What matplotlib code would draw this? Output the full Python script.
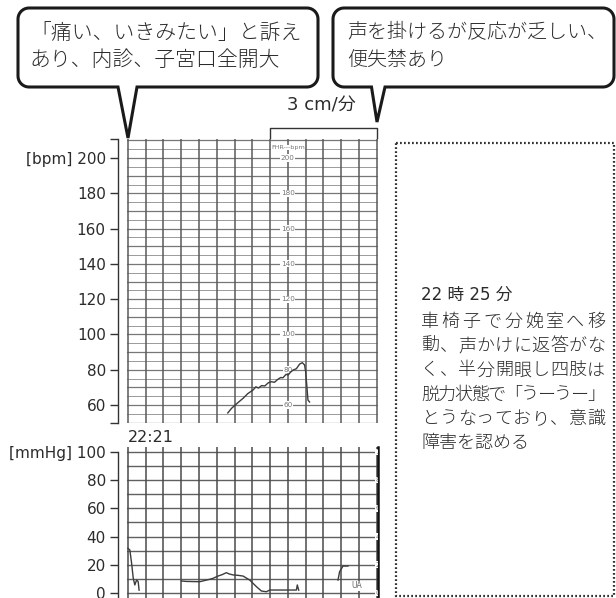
import numpy as np
import matplotlib
matplotlib.use("Agg")
import matplotlib.pyplot as plt
from matplotlib.patches import Polygon, Rectangle
from matplotlib.ticker import FixedLocator
from matplotlib.transforms import blended_transform_factory

# ---------------- data ----------------
fhr_t = [56.2, 58.3, 61.5, 64.8, 67.5, 70.4, 72.0, 73.5, 75.2, 77.0, 79.0, 80.7,
         82.5, 84.4, 86.0, 87.2, 89.0, 90.1, 91.5, 92.9, 94.8, 96.6, 98.1, 99.4,
         100.0, 100.7, 101.3, 102.2]
fhr_v = [55.5, 58.1, 61.0, 63.8, 66.5, 68.5, 70.3, 69.6, 71.0, 70.8, 72.6, 73.2,
         72.9, 74.6, 75.6, 75.4, 77.4, 77.0, 78.6, 79.8, 80.6, 83.2, 84.0, 82.7,
         78.9, 70.4, 62.8, 61.7]

nan = np.nan
ua_t = [0.0, 1.1, 2.1, 3.0, 3.9, 4.9, 5.8, 6.3, nan,
        30.2, 33.0, 40.4, 46.0, 47.9, 50.7, 53.0, 55.4, 57.0, 59.2, 62.0, 64.8,
        68.5, 72.3, 75.1, 77.9, 79.8, 94.8, 95.3, 96.1, nan,
        118.2, 119.1, 121.0, 123.8]
ua_v = [31.7, 30.5, 21.0, 10.6, 5.7, 9.2, 8.0, 2.0, nan,
        8.5, 8.2, 8.0, 9.7, 10.4, 12.0, 13.0, 14.4, 13.5, 12.8, 12.5, 12.0,
        9.2, 4.5, 1.4, 0.9, 2.1, 2.1, 5.7, 2.0, nan,
        9.2, 15.1, 19.1, 19.1]

fhr_ticks = [60, 80, 100, 120, 140, 160, 180, 200]
fhr_ticklabels = ["60", "80", "100", "120", "140", "160", "180", "[bpm] 200"]
ua_ticks = [0, 20, 40, 60, 80, 100]
ua_ticklabels = ["0", "20", "40", "60", "80", "[mmHg] 100"]
paper_fhr_labels = [60, 80, 100, 120, 140, 160, 180, 200]
paper_ua_labels = [0, 20, 40, 60, 80, 100]
time_grid = list(range(0, 141, 10))      # 10 s per column (3 cm/min)
speed_span = [80, 140]                    # one minute

callout_left = ["「痛い、いきみたい」と訴え", "あり、内診、子宮口全開大"]
callout_right = ["声を掛けるが反応が乏しい、", "便失禁あり"]
note_head = "22 時 25 分"
note_lines = ["車椅子で分娩室へ移", "動、声かけに返答がな", "く、半分開眼し四肢は",
              "脱力状態で「うーうー」", "とうなっており、意識", "障害を認める"]
time_label = "22:21"
speed_label = "3 cm/分"

# ---------------- figure ----------------
W, H = 616, 598
plt.rcParams["font.family"] = ["DejaVu Sans", "Noto Sans CJK JP"]
JP = ["Noto Sans CJK JP", "DejaVu Sans"]
TXT = "#2b2b2b"
LW_T = "light"

fig = plt.figure(figsize=(W / 100, H / 100), dpi=100)


def px_axes(l, t, r, b):
    return fig.add_axes([l / W, 1 - b / H, (r - l) / W, (b - t) / H])


def style_axis(ax, ticks, labels):
    for s in ["top", "right", "bottom"]:
        ax.spines[s].set_visible(False)
    ax.spines["left"].set_position(("outward", 6.5))
    ax.spines["left"].set_color("#333333")
    ax.spines["left"].set_linewidth(1.0)
    ax.set_xticks([])
    ax.set_yticks(ticks)
    ax.set_yticklabels(labels)
    ax.tick_params(axis="y", direction="out", length=5.8, width=1.0,
                   color="#333333", labelsize=11, labelcolor=TXT, pad=3)
    ax.tick_params(axis="y", which="minor", direction="out", length=5.8,
                   width=1.0, color="#333333")


# FHR panel
ax1 = px_axes(127, 139, 378, 423)
ax1.set_xlim(-0.5, 140.7)
ax1.set_ylim(49.8, 210.8)
style_axis(ax1, fhr_ticks, fhr_ticklabels)
ax1.yaxis.set_minor_locator(FixedLocator([49.85, 210.75]))
y0, y1 = ax1.get_ylim()
for v in np.arange(50, 211, 5):
    major = v % 10 == 0
    ax1.axhline(v, color="#777777" if major else "#9a9a9a",
                lw=0.9 if major else 0.7, zorder=1)
ax1.vlines(time_grid, y0, y1, colors="#5a5a5a", lw=1.1, zorder=2)
for v in paper_fhr_labels:
    ax1.text(90, v, str(v), fontsize=5.2, color="#777777", ha="center",
             va="center", zorder=3,
             bbox=dict(fc="white", ec="none", pad=0.4))
ax1.text(90, 206, "FHR---bpm", fontsize=4.6, color="#777777", ha="center",
         va="center", zorder=3, bbox=dict(fc="white", ec="none", pad=0.3))
ax1.plot(fhr_t, fhr_v, color="#3c3c3c", lw=1.0, zorder=4)

# UA panel
ax2 = px_axes(127, 447, 378, 598)
ax2.set_xlim(-0.5, 140.7)
ax2.set_ylim(-3.55, 103.5)
style_axis(ax2, ua_ticks, ua_ticklabels)
ax2.spines["left"].set_bounds(-3.55, 100)
ax2.spines["right"].set_visible(True)
ax2.spines["right"].set_color("#111111")
ax2.spines["right"].set_linewidth(1.8)
z0, z1 = ax2.get_ylim()
for v in np.arange(0, 101, 10):
    ax2.axhline(v, color="#606060", lw=1.0, zorder=1)
ax2.vlines(time_grid, z0, z1, colors="#4a4a4a", lw=1.1, zorder=2)
for v in paper_ua_labels:
    ax2.text(139.2, v, str(v), fontsize=5.2, color="#666666", ha="left",
             va="center", zorder=3, clip_on=True,
             bbox=dict(fc="white", ec="none", pad=0.2))
ax2.text(128.5, 5, "UA", fontsize=5.5, color="#666666", ha="center",
         va="center", zorder=3, bbox=dict(fc="white", ec="none", pad=0.3))
ax2.plot(ua_t, ua_v, color="#3c3c3c", lw=1.0, zorder=4)

# ---------------- overlay (annotations) ----------------
ov = fig.add_axes([0, 0, 1, 1], zorder=10)
ov.set_xlim(0, W)
ov.set_ylim(H, 0)
ov.axis("off")
ov.patch.set_alpha(0)


def bubble(x0, y0, x1, y1, r, pb0, pb1, tip):
    verts = []

    def arc(cx, cy, a0, a1):
        for a in np.linspace(a0, a1, 10):
            verts.append((cx + r * np.cos(a), cy + r * np.sin(a)))

    arc(x0 + r, y0 + r, np.pi, 1.5 * np.pi)
    arc(x1 - r, y0 + r, 1.5 * np.pi, 2 * np.pi)
    arc(x1 - r, y1 - r, 0, 0.5 * np.pi)
    verts += [(pb1, y1), tip, (pb0, y1)]
    arc(x0 + r, y1 - r, 0.5 * np.pi, np.pi)
    return Polygon(verts, closed=True, fc="white", ec="#1a1a1a", lw=2.2,
                   joinstyle="miter")


ov.add_patch(bubble(18, 8, 318, 87, 11, 118, 137, (128, 138)))
ov.add_patch(bubble(333, 8, 614, 87, 11, 371.5, 385, (377, 122)))
for i, s in enumerate(callout_left):
    ov.text(30, 33 + 27 * i, s, family=JP, fontsize=15, color=TXT,
            ha="left", va="center", fontweight=LW_T)
for i, s in enumerate(callout_right):
    ov.text(347, 33 + 27 * i, s, family=JP, fontsize=14.4, color=TXT,
            ha="left", va="center", fontweight=LW_T)

# speed bracket
bt = blended_transform_factory(ax1.transData, ov.transData)
ov.plot([speed_span[0], speed_span[0], speed_span[1], speed_span[1]],
        [138, 128, 128, 138], transform=bt, color="#333333", lw=1.0,
        clip_on=False)
ov.text(321, 106, speed_label, fontsize=13, color=TXT, ha="center",
        va="center")

# time label
ov.text(128, 438, time_label, fontsize=11.5, color=TXT, ha="left",
        va="center")

# dotted note box
ov.add_patch(Rectangle((396, 143), 218, 453, fill=False, ec="#333333",
                       lw=1.6, ls=(0, (0.8, 1.0))))

# note text (justified lines)
NX0, NX1 = 421, 605
ov.text(NX0, 295, note_head, fontsize=12, color=TXT, ha="left",
        va="center", family=["DejaVu Sans", "Noto Sans CJK JP"])
fig.canvas.draw()
renderer = fig.canvas.get_renderer()
for i, line in enumerate(note_lines):
    y = 322 + 24.2 * i
    if i == len(note_lines) - 1:
        ov.text(NX0, y, line, family=JP, fontsize=13, color=TXT,
                ha="left", va="center", fontweight=LW_T)
        continue
    objs = [ov.text(0, y, ch, family=JP, fontsize=13, color=TXT,
                    ha="left", va="center", fontweight=LW_T) for ch in line]
    widths = [o.get_window_extent(renderer).width for o in objs]
    gap = (NX1 - NX0 - sum(widths)) / (len(objs) - 1)
    x = NX0
    for o, w in zip(objs, widths):
        o.set_x(x)
        x += w + gap

fig.savefig("out.png", dpi=100)
